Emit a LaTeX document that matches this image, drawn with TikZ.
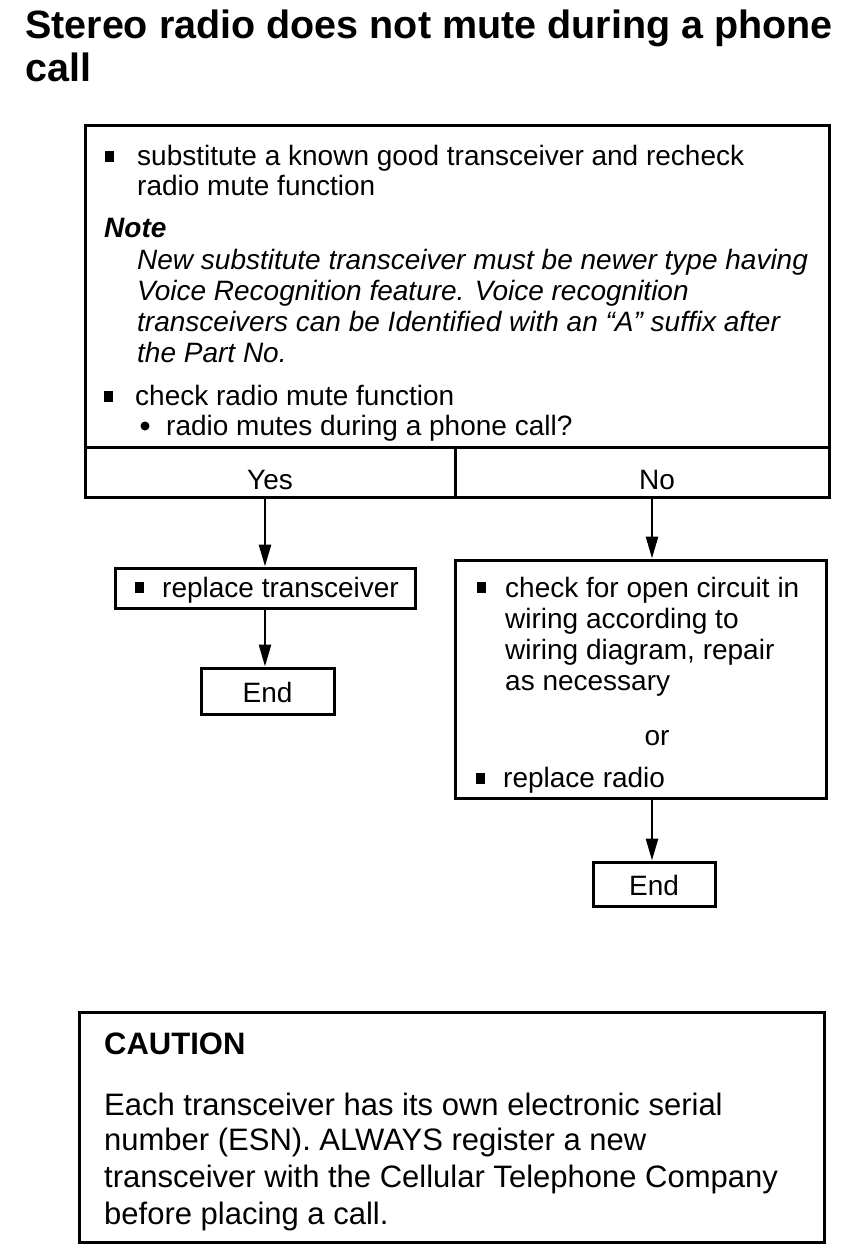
\documentclass[tikz,border=0pt]{standalone}
\usepackage{fontspec}
\setmainfont{Liberation Sans}
\usetikzlibrary{arrows.meta}
\begin{document}
\begin{tikzpicture}[x=1pt,y=-1pt,
  box/.style={draw,line width=3pt,rectangle,inner sep=0pt},
  txt/.style={anchor=base west,inner sep=0pt,font=\fontsize{28}{32}\selectfont},
  ctxt/.style={anchor=base,inner sep=0pt,font=\fontsize{28}{32}\selectfont},
  itxt/.style={anchor=base west,inner sep=0pt,font=\fontsize{28}{32}\selectfont\itshape},
  ctn/.style={anchor=base west,inner sep=0pt,font=\fontsize{31}{36}\selectfont},
  sq/.style={fill,inner sep=0pt,minimum width=9pt,minimum height=11pt},
  dot/.style={fill,circle,inner sep=0pt,minimum size=9pt},
  arr/.style={line width=2.6pt,-{Triangle[length=22pt,width=12pt]}}]
\useasboundingbox (0,0) rectangle (848,1250);
% title
\node[anchor=base west,inner sep=0pt,font=\fontsize{39.5}{44}\selectfont\bfseries] (t1) at (25,38) {Stereo radio does not mute during a phone};
\node[anchor=base west,inner sep=0pt,font=\fontsize{39.5}{44}\selectfont\bfseries] (t2) at (25,81) {call};
% top box
\node[box,minimum width=744pt,minimum height=372pt] (top) at (457,311) {};
\node[box,minimum width=370pt,minimum height=50pt] (yes) at (270,472) {};
\node[box,minimum width=374pt,minimum height=50pt] (no) at (642,472) {};
\node[ctxt] (yest) at (270,489) {Yes};
\node[ctxt] (not) at (657,489) {No};
\node[sq] (b1) at (109,156) {};
\node[txt] (l1) at (137,165) {substitute a known good transceiver and recheck};
\node[txt] (l2) at (137,195) {radio mute function};
\node[anchor=base west,inner sep=0pt,font=\fontsize{28}{32}\selectfont\bfseries\itshape] (note) at (104,237) {Note};
\node[itxt] (n1) at (137,269) {New substitute transceiver must be newer type having};
\node[itxt] (n2) at (137,300) {Voice Recognition feature. Voice recognition};
\node[itxt] (n3) at (137,331) {transceivers can be Identified with an ``A'' suffix after};
\node[itxt] (n4) at (137,362) {the Part No.};
\node[sq] (b2) at (108,396) {};
\node[txt] (l3) at (135,405) {check radio mute function};
\node[dot] (b3) at (145,426) {};
\node[txt] (l4) at (166,435) {radio mutes during a phone call?};
% left branch
\node[box,minimum width=300pt,minimum height=40pt] (rt) at (265,588) {};
\node[sq] (b4) at (139,587) {};
\node[txt] (rtt) at (162,597) {replace transceiver};
\node[box,minimum width=133pt,minimum height=46pt] (end1) at (267.5,691) {};
\node[ctxt] (end1t) at (267.5,702) {End};
% right branch
\node[box,minimum width=371pt,minimum height=238pt] (chk) at (640.5,679) {};
\node[sq] (b5) at (481,587) {};
\node[txt] (c1) at (505,597) {check for open circuit in};
\node[txt] (c2) at (505,628) {wiring according to};
\node[txt] (c3) at (505,659) {wiring diagram, repair};
\node[txt] (c4) at (505,690) {as necessary};
\node[ctxt] (or) at (657,745) {or};
\node[sq] (b6) at (480,778) {};
\node[txt] (c5) at (503,787) {replace radio};
\node[box,minimum width=122pt,minimum height=44pt] (end2) at (654,884) {};
\node[ctxt] (end2t) at (654,895) {End};
% arrows
\draw[arr] (rt.north |- yes.south) -- (rt.north);
\draw[arr] (rt.south) -- (rt.south |- end1.north);
\draw[arr] (652,497) coordinate (nos) -- (nos |- chk.north);
\draw[arr] (652,798) coordinate (chks) -- (chks |- end2.north);
% caution
\node[box,minimum width=745pt,minimum height=230pt] (cau) at (451.5,1127) {};
\node[anchor=base west,inner sep=0pt,font=\fontsize{31}{36}\selectfont\bfseries] (caut) at (104,1054) {CAUTION};
\node[ctn] (e1) at (104,1115) {Each transceiver has its own electronic serial};
\node[ctn] (e2) at (104,1150) {number (ESN). ALWAYS register a new};
\node[ctn] (e3) at (104,1187) {transceiver with the Cellular Telephone Company};
\node[ctn] (e4) at (104,1224) {before placing a call.};
\end{tikzpicture}
\end{document}
